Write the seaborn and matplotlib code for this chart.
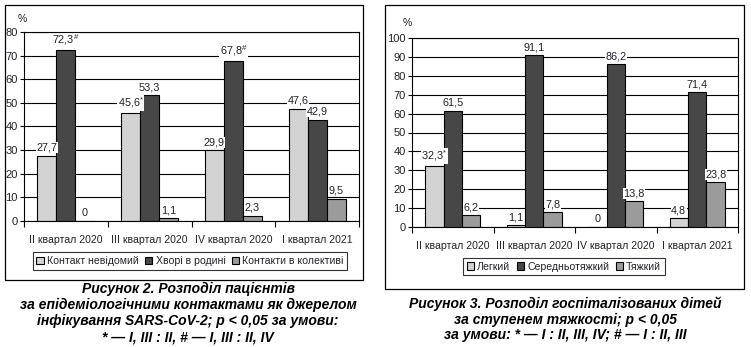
import matplotlib
matplotlib.use("Agg")
import matplotlib.pyplot as plt
from matplotlib.patches import Rectangle
import seaborn as sns
import pandas as pd

# ---------------- data ----------------
quarters = ['II квартал 2020', 'III квартал 2020', 'IV квартал 2020', 'I квартал 2021']

left_series = ['Контакт невідомий', 'Хворі в родині', 'Контакти в колективі']
contact_unknown = [27.7, 45.6, 29.9, 47.6]
family_sick = [72.3, 53.3, 67.8, 42.9]
collective = [0, 1.1, 2.3, 9.5]
contact_unknown_marks = ['', '*', '', '']
family_sick_marks = ['#', '', '#', '']
collective_marks = ['', '', '', '']

right_series = ['Легкий', 'Середньотяжкий', 'Тяжкий']
mild = [32.3, 1.1, 0, 4.8]
moderate = [61.5, 91.1, 86.2, 71.4]
severe = [6.2, 7.8, 13.8, 23.8]
mild_marks = ['*', '', '', '']
moderate_marks = ['', '', '', '']
severe_marks = ['', '', '', '']

left_caption = ['Рисунок 2. Розподіл пацієнтів',
                'за епідеміологічними контактами як джерелом',
                'інфікування SARS-CoV-2; p < 0,05 за умови:',
                '* — I, III : II, # — I, III : II, IV']
right_caption = ['Рисунок 3. Розподіл госпіталізованих дітей',
                 'за ступенем тяжкості; p < 0,05',
                 'за умови: * — I : II, III, IV; # — I : II, III']

colors = ['#d3d3d3', '#474747', '#9b9b9b']
txt_color = '#22222e'

# ---------------- style ----------------
sns.set_theme(style='white')
plt.rcParams['font.family'] = ['Liberation Sans', 'DejaVu Sans']
plt.rcParams['mathtext.fontset'] = 'custom'
plt.rcParams['mathtext.rm'] = 'Liberation Sans'
plt.rcParams['mathtext.it'] = 'Liberation Sans'

W, H = 751, 347
fig = plt.figure(figsize=(W / 100, H / 100), dpi=100)
fig.patch.set_facecolor('white')


def fx(x):
    return x / W


def fy(y):
    return 1 - y / H


def fmt(v, m):
    s = '0' if v == 0 else f'{v:.1f}'.replace('.', ',')
    if m:
        s += '$^{\\' + m + '}$' if m == '#' else '$^{' + m + '}$'
    return s


def draw(ax, series, values, marks, ymax):
    rows = []
    for name, vals in zip(series, values):
        for q, v in zip(quarters, vals):
            rows.append({'q': q, 's': name, 'v': v})
    df = pd.DataFrame(rows)
    sns.barplot(data=df, x='q', y='v', hue='s', order=quarters, hue_order=series,
                palette=colors, width=0.68, edgecolor='black', linewidth=0.8,
                saturation=1, ax=ax, legend=False, zorder=3)
    for cont, vals, mk in zip(ax.containers, values, marks):
        texts = ax.bar_label(cont, labels=[fmt(v, m) for v, m in zip(vals, mk)],
                             padding=2, fontsize=7.8, color=txt_color)
        for t in texts:
            t.set_bbox(dict(facecolor='white', edgecolor='none', pad=0.3))
            t.set_zorder(3.5)
    ax.set_ylim(0, ymax)
    ax.set_xlim(-0.5, 3.5)
    ax.set_yticks(range(0, ymax + 1, 10))
    ax.set_xticks([-0.5, 0.5, 1.5, 2.5, 3.5], minor=True)
    ax.tick_params(axis='x', which='major', length=0, labelsize=7.6, colors=txt_color, pad=10)
    ax.tick_params(axis='x', which='minor', length=4, width=0.8, color='black', bottom=True)
    ax.tick_params(axis='y', length=3, width=0.8, color='black', left=True,
                   labelsize=8, labelcolor=txt_color, pad=1.5)
    ax.grid(axis='y', color='black', linewidth=0.8, zorder=0)
    ax.set_axisbelow(True)
    ax.set_xlabel('')
    ax.set_ylabel('')
    for sp in ax.spines.values():
        sp.set_visible(True)
        sp.set_color('black')
        sp.set_linewidth(0.8)
        sp.set_zorder(4)
    ax.set_facecolor('white')


# panel frames
fig.patches.append(Rectangle((fx(5), fy(280)), fx(358), 275 / H, transform=fig.transFigure,
                             fill=False, edgecolor='black', linewidth=0.9))
fig.patches.append(Rectangle((fx(385), fy(289)), fx(359), 284 / H, transform=fig.transFigure,
                             fill=False, edgecolor='black', linewidth=0.9))

# left chart
axL = fig.add_axes([fx(24), fy(221), fx(359 - 24), (221 - 32) / H])
draw(axL, left_series, [contact_unknown, family_sick, collective],
     [contact_unknown_marks, family_sick_marks, collective_marks], 80)
fig.text(fx(22), fy(19), '%', ha='center', va='center', fontsize=7.5, color=txt_color)

# right chart
axR = fig.add_axes([fx(412), fy(227), fx(738 - 412), (227 - 38) / H])
draw(axR, right_series, [mild, moderate, severe],
     [mild_marks, moderate_marks, severe_marks], 100)
fig.text(fx(407), fy(23), '%', ha='center', va='center', fontsize=7.5, color=txt_color)

# legends
def legend(series, cx, cy):
    handles = [Rectangle((0, 0), 1, 1, facecolor=c, edgecolor='black', linewidth=0.8)
               for c in colors]
    lg = fig.legend(handles, series, loc='center', bbox_to_anchor=(fx(cx), fy(cy)),
                    ncol=3, frameon=True, fancybox=False, edgecolor='black',
                    fontsize=7.6, handlelength=0.7, handleheight=0.7, handletextpad=0.3,
                    columnspacing=0.6, borderpad=0.35, labelcolor=txt_color)
    lg.get_frame().set_linewidth(0.8)
    return lg

legend(left_series, 190, 261)
legend(right_series, 564, 266.5)

# captions
cap_font = ['Liberation Sans Narrow', 'Liberation Sans', 'DejaVu Sans']
for i, line in enumerate(left_caption):
    fig.text(fx(188), fy(289 + 16 * i), line, ha='center', va='center', fontsize=10,
             fontweight='bold', fontstyle='italic', family=cap_font, color='black')
for i, line in enumerate(right_caption):
    fig.text(fx(565), fy(304 + 15.5 * i), line, ha='center', va='center', fontsize=10,
             fontweight='bold', fontstyle='italic', family=cap_font, color='black')

fig.savefig('out.png', dpi=100, facecolor='white')
